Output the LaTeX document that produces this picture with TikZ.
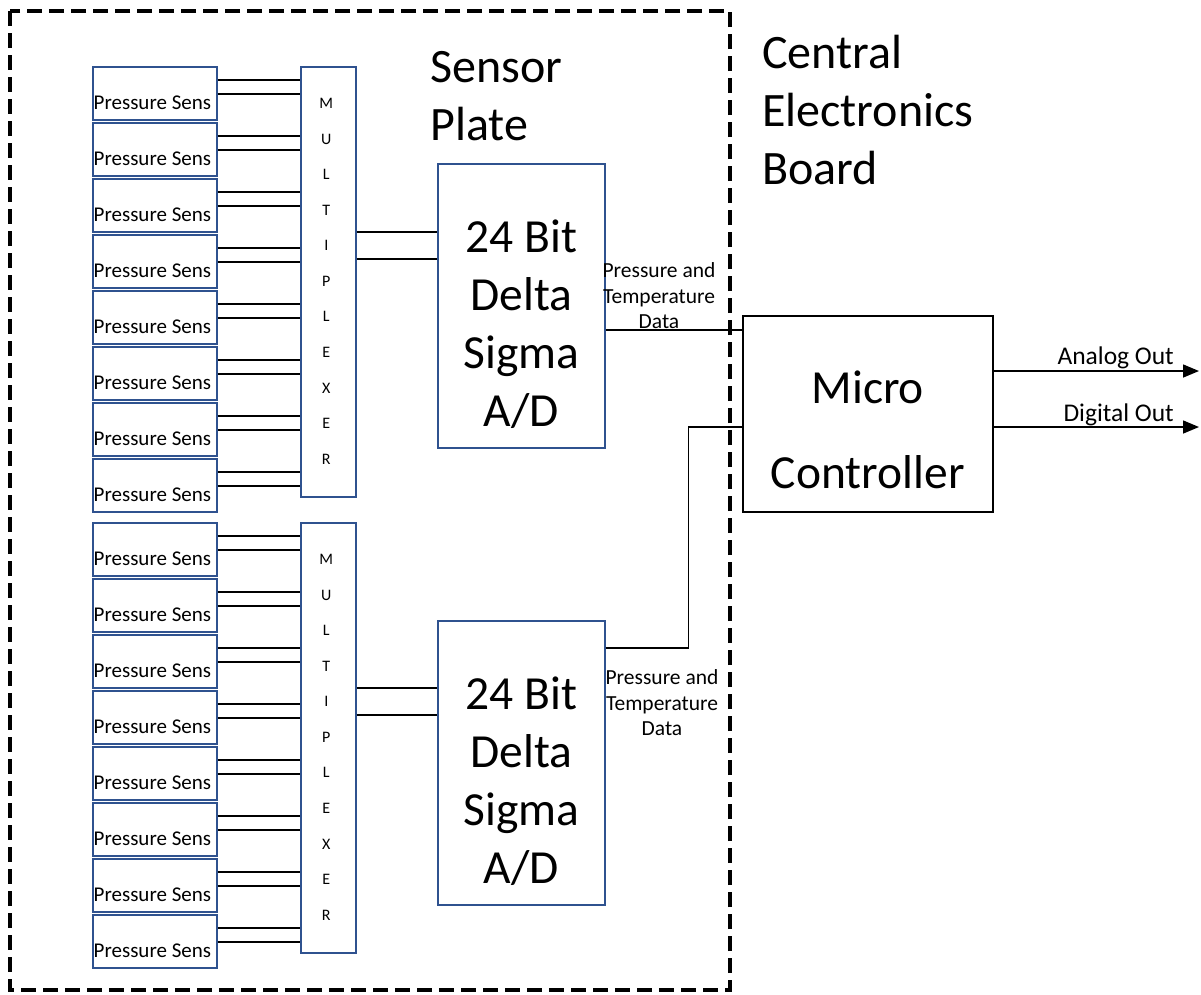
\documentclass[tikz,border=0pt]{standalone}
\usepackage{fontspec}
\setmainfont{Carlito}
\usetikzlibrary{arrows.meta,calc}
\definecolor{boxblue}{RGB}{47,82,143}

\begin{document}
\begin{tikzpicture}[x=1pt,y=-1pt,
  blk/.style={draw=boxblue, line width=1.6pt, inner sep=0pt, anchor=north west},
  sens/.style={blk, minimum width=124pt, minimum height=53pt},
  muxbox/.style={blk, minimum width=55pt, minimum height=430pt},
  adcbox/.style={blk, minimum width=167pt, minimum height=284pt},
  mcubox/.style={draw=black, line width=1.6pt, inner sep=0pt, anchor=north west,
                 minimum width=250pt, minimum height=196pt},
  wire/.style={draw=black, line width=1.5pt},
  outwire/.style={wire, -{Triangle[length=16pt,width=13pt]}},
  senstext/.style={anchor=west, inner sep=0pt, font=\fontsize{21}{22}\selectfont},
  muxtext/.style={inner sep=0pt, font=\fontsize{16}{17}\selectfont},
  bigtext/.style={align=center, inner sep=0pt, font=\fontsize{47.5}{58}\selectfont},
  mcutext/.style={align=center, inner sep=0pt, font=\fontsize{47.5}{85}\selectfont},
  titletext/.style={align=left, anchor=west, inner sep=0pt, font=\fontsize{48}{58}\selectfont},
  datatext/.style={align=center, inner sep=0pt, font=\fontsize{21.5}{25.5}\selectfont},
  outtext/.style={anchor=east, inner sep=0pt, font=\fontsize{25.5}{27}\selectfont},
  border/.style={line width=4.5pt, dash pattern=on 15pt off 7pt}
]
\useasboundingbox (0,0) rectangle (1201,994);

% sensor plate outline
\draw[border] (10,11) rectangle (730,990);
\node[titletext] (plate) at (430,96.5) {Sensor\\Plate};
\node[titletext] (ceb) at (762,110.5) {Central\\Electronics\\Board};

% multiplexers
\node[muxbox] (mux1) at (300,66) {};
\node[muxbox] (mux2) at (300,522) {};
\foreach \m in {1,2}{
  \foreach \l [count=\k] in {M,U,L,T,I,P,L,E,X,E,R}
    \node[muxtext] (mux\m l\k) at ($(mux\m.north)+(-2,{37.5+35.55*(\k-1)})$) {\l};
}

% sensor columns: eight per multiplexer, two wires each
\foreach \i in {1,...,8}{
  \node[sens] (s\i) at (92,{66+56*(\i-1)}) {};
  \node[senstext] (s\i t) at ($(s\i.north west)+(1.5,37)$) {Pressure Sens};
  \path (s\i.north east) ++(0,14) coordinate (s\i a) ++(0,14) coordinate (s\i b);
  \draw[wire] (s\i a) -- (s\i a -| mux1.west);
  \draw[wire] (s\i b) -- (s\i b -| mux1.west);
}
\foreach \i in {9,...,16}{
  \node[sens] (s\i) at (92,{522+56*(\i-9)}) {};
  \node[senstext] (s\i t) at ($(s\i.north west)+(1.5,37)$) {Pressure Sens};
  \path (s\i.north east) ++(0,14) coordinate (s\i a) ++(0,14) coordinate (s\i b);
  \draw[wire] (s\i a) -- (s\i a -| mux2.west);
  \draw[wire] (s\i b) -- (s\i b -| mux2.west);
}

% converters
\node[adcbox] (adc1) at (437,163) {};
\node[adcbox] (adc2) at (437,620) {};
\node[bigtext] (adc1t) at ($(adc1.center)+(0,18)$) {24 Bit\\Delta\\Sigma\\A/D};
\node[bigtext] (adc2t) at ($(adc2.center)+(0,18)$) {24 Bit\\Delta\\Sigma\\A/D};

\foreach \m in {1,2}{
  \path (mux\m.north east) ++(0,166) coordinate (mx\m a) ++(0,27) coordinate (mx\m b);
  \draw[wire] (mx\m a) -- (mx\m a -| adc\m.west);
  \draw[wire] (mx\m b) -- (mx\m b -| adc\m.west);
}

% micro controller
\node[mcubox] (mcu) at (742,315) {};
\node[mcutext] (mcut) at ($(mcu.center)+(0,16.5)$) {Micro\\Controller};

% data links
\path (adc1.north east) ++(0,167) coordinate (d1);
\path (adc2.north east) ++(0,28) coordinate (d2);
\path (mcu.north west) ++(0,112) coordinate (m2);
\draw[wire] (d1) -- (d1 -| mcu.west);
\draw[wire] (d2) -- ++(83,0) |- (m2);
\node[datatext] (lab1) at (659,296) {Pressure and\\Temperature\\Data};
\node[datatext] (lab2) at (662,703) {Pressure and\\Temperature\\Data};

% outputs
\path (mcu.north east) ++(0,56) coordinate (o1) ++(0,56) coordinate (o2);
\coordinate (ao) at (1199,371);
\coordinate (do) at (1199,427);
\draw[outwire] (o1) -- (ao);
\draw[outwire] (o2) -- (do);
\node[outtext] (aol) at (1174,358) {Analog Out};
\node[outtext] (dol) at (1174,415) {Digital Out};
\end{tikzpicture}
\end{document}
